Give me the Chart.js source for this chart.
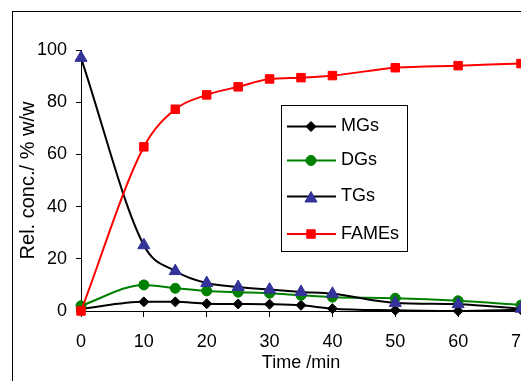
<!DOCTYPE html>
<html>
<head>
<meta charset="utf-8">
<script src="https://cdn.jsdelivr.net/npm/chart.js@4.4.1/dist/chart.umd.min.js"></script>
<style>
  html, body { margin: 0; padding: 0; background: #fff; overflow: hidden; width: 521px; height: 381px; }
  #frame { position: absolute; left: 12px; top: 11px; width: 700px; height: 500px; border: 1px solid #000; }
  #chart { position: absolute; left: 0; top: 0; }
</style>
</head>
<body>
<div id="frame"></div>
<canvas id="chart" width="560" height="381"></canvas>
<script>
// Thời gian phản ứng (phút)
const timeMin = [0, 10, 15, 20, 25, 30, 35, 40, 50, 60, 70];

// Nồng độ tương đối (% w/w)
const mgValues = [0.8, 3.5, 3.5, 2.8, 2.7, 2.6, 2.2, 0.9, 0.3, 0, 0.5];
const dgValues = [2, 10, 8.7, 7.7, 7.2, 6.8, 6, 5.3, 4.9, 3.9, 2.3];
const tgValues = [97, 25.2, 15.3, 10.7, 9.2, 8.2, 7.3, 6.6, 3.1, 2.6, 0.9];
const fameValues = [0, 62.9, 77.3, 82.8, 85.9, 88.9, 89.4, 90.2, 93.2, 94, 94.8];

const yTicks = [0, 20, 40, 60, 80, 100];
const xTicks = [0, 10, 20, 30, 40, 50, 60, 70];

const FONT = '"Liberation Sans", Arial, sans-serif';
Chart.defaults.font.family = FONT;
Chart.defaults.color = "#000";

function toPoints(values) {
  return values.map((v, i) => ({ x: timeMin[i], y: v }));
}

function makeSeries(label, values, color, markerColor, style, radius, order) {
  return {
    label: label,
    data: toPoints(values),
    borderColor: color,
    backgroundColor: markerColor,
    pointBackgroundColor: markerColor,
    pointBorderColor: markerColor,
    pointStyle: style,
    pointRadius: radius,
    pointBorderWidth: 1,
    borderWidth: 2,
    cubicInterpolationMode: "monotone",
    clip: false,
    order: order,
  };
}

// Legend tự vẽ bên trong vùng biểu đồ
const boxLegend = {
  id: "boxLegend",
  afterDraw(chart) {
    const ctx = chart.ctx;
    const left = 281, top = 105, w = 126, h = 146;
    ctx.save();
    ctx.fillStyle = "#fff";
    ctx.fillRect(left, top, w, h);
    ctx.strokeStyle = "#000";
    ctx.lineWidth = 1;
    ctx.strokeRect(left + 0.5, top + 0.5, w, h);

    const rows = [126.5, 160.5, 196.5, 234];
    chart.data.datasets.forEach((ds, i) => {
      const y = rows[i];
      ctx.strokeStyle = ds.borderColor;
      ctx.lineWidth = 2;
      ctx.beginPath();
      ctx.moveTo(287, y);
      ctx.lineTo(336, y);
      ctx.stroke();

      ctx.fillStyle = ds.pointBackgroundColor;
      ctx.strokeStyle = ds.pointBorderColor;
      ctx.lineWidth = 1;
      Chart.helpers.drawPoint(ctx, {
        pointStyle: ds.pointStyle,
        radius: ds.pointRadius,
        rotation: 0,
        borderWidth: 1,
      }, 311, ds.pointStyle === "triangle" ? y + 2 : y);

      ctx.fillStyle = "#000";
      ctx.font = "18px " + FONT;
      ctx.textBaseline = "middle";
      ctx.textAlign = "left";
      ctx.fillText(ds.label, 341, y);
    });
    ctx.restore();
  },
};

const ctx = document.getElementById("chart").getContext("2d");

const myChart = new Chart(ctx, {
  type: "line",
  data: {
    datasets: [
      makeSeries("MGs", mgValues, "#000000", "#000000", "rectRot", 5, 3),
      makeSeries("DGs", dgValues, "#008000", "#008000", "circle", 5, 2),
      makeSeries("TGs", tgValues, "#000000", "#333399", "triangle", 7, 1),
      makeSeries("FAMEs", fameValues, "#FF0000", "#FF0000", "rect", 6, 0),
    ],
  },
  options: {
    responsive: false,
    animation: false,
    layout: { padding: { top: 50, right: 39, bottom: 0, left: 0 } },
    plugins: {
      legend: { display: false },
      tooltip: { enabled: false },
    },
    scales: {
      x: {
        type: "linear",
        min: 0,
        max: 70,
        afterFit: (scale) => { scale.height = 70; },
        afterBuildTicks: (scale) => { scale.ticks = xTicks.map((v) => ({ value: v })); },
        grid: { drawOnChartArea: false, drawTicks: true, tickLength: 6, color: "#000" },
        border: { display: true, color: "#000", width: 1 },
        ticks: { font: { size: 18 }, padding: 14, maxRotation: 0 },
        title: {
          display: true,
          text: "Time /min",
          font: { size: 18 },
          padding: { top: 0, bottom: 7 },
        },
      },
      y: {
        min: 0,
        max: 100,
        afterFit: (scale) => { scale.width = 81; },
        afterBuildTicks: (scale) => { scale.ticks = yTicks.map((v) => ({ value: v })); },
        grid: { drawOnChartArea: false, drawTicks: true, tickLength: 5, color: "#000" },
        border: { display: true, color: "#000", width: 1 },
        ticks: { font: { size: 18 }, padding: 9 },
        title: {
          display: true,
          text: "Rel. conc./ % w/w",
          font: { size: 20 },
          padding: { top: 16, bottom: 0 },
        },
      },
    },
  },
  plugins: [boxLegend],
});
</script>
</body>
</html>
